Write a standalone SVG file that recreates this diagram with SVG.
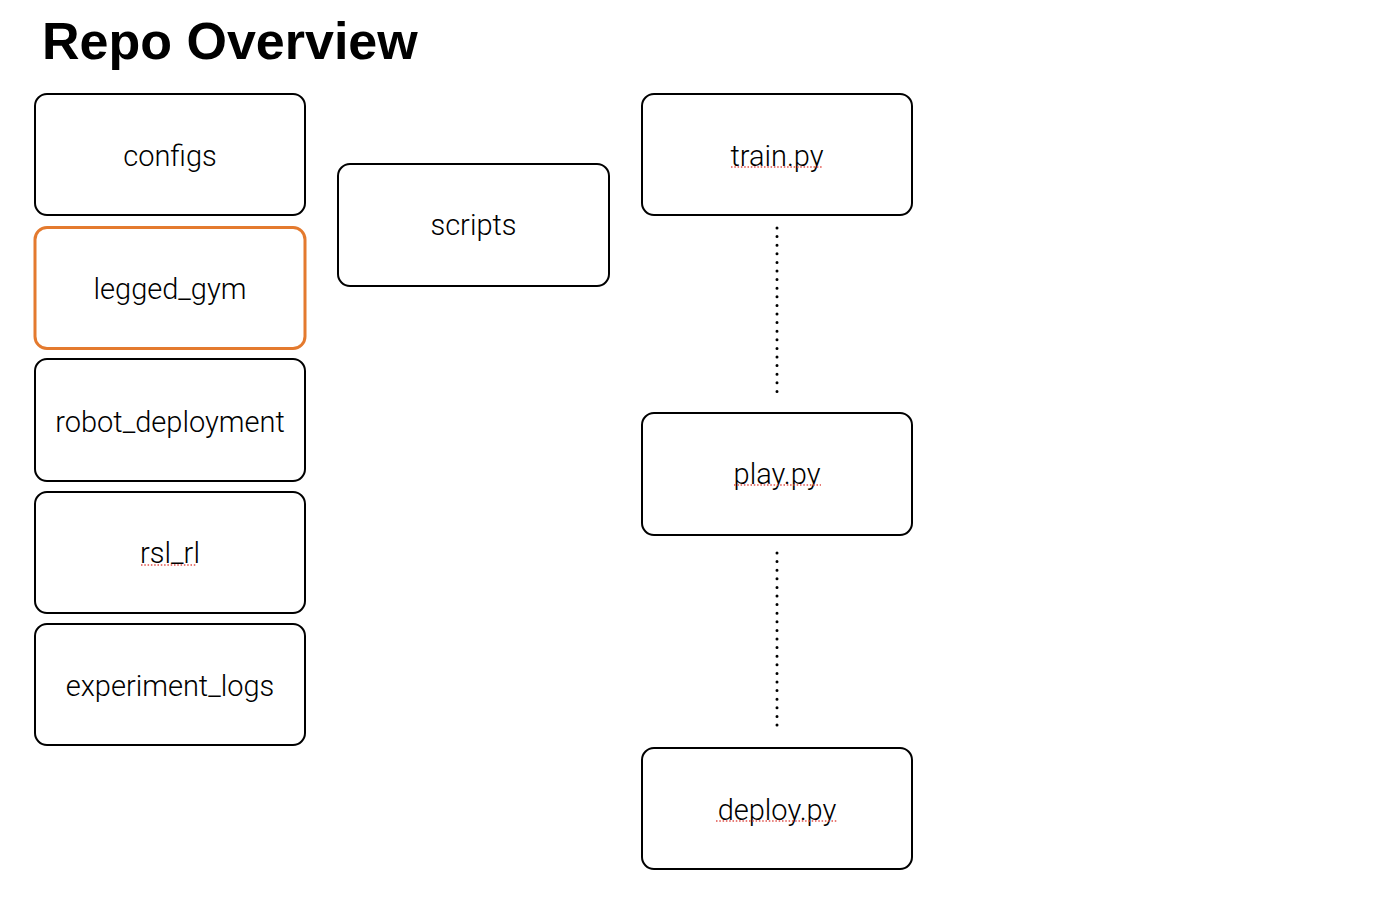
<svg xmlns="http://www.w3.org/2000/svg" width="1382" height="908" viewBox="0 0 1382 908">
<style>
.box{fill:#fff;stroke:#000;stroke-width:2}
.hl{fill:#fff;stroke:#E47A2E;stroke-width:3}
.lbl{font-family:Roboto,"Liberation Sans",sans-serif;font-weight:300;font-size:29px;fill:#000;text-anchor:middle}
.title{font-family:"Liberation Sans",Arial,sans-serif;font-weight:bold;font-size:52px;fill:#000}
.dot{stroke:#000;stroke-width:3;stroke-linecap:round;stroke-dasharray:0 8.6;fill:none}
.sp{stroke:#e0504a;stroke-width:1.3;stroke-dasharray:1.5 1.8;fill:none}
</style>
<rect width="1382" height="908" fill="#fff"/>
<text class="title" x="42" y="59">Repo Overview</text>
<g id="connectors">
<line class="dot" x1="777" y1="228" x2="777" y2="392.5"/>
<line class="dot" x1="777" y1="553" x2="777" y2="726"/>
</g>
<g id="configs"><rect class="box" x="35" y="94" width="270" height="121" rx="12"/><text class="lbl" x="170" y="166">configs</text></g>
<g id="legged_gym"><rect class="hl" x="35" y="227.5" width="270" height="121" rx="12"/><text class="lbl" x="170" y="299">legged_gym</text></g>
<g id="robot_deployment"><rect class="box" x="35" y="359" width="270" height="122" rx="12"/><text class="lbl" x="170" y="432">robot_deployment</text></g>
<g id="rsl_rl"><rect class="box" x="35" y="492" width="270" height="121" rx="12"/><text class="lbl" x="170" y="563">rsl_rl</text><line class="sp" x1="141" y1="565" x2="197" y2="565"/></g>
<g id="experiment_logs"><rect class="box" x="35" y="624" width="270" height="121" rx="12"/><text class="lbl" x="170" y="696">experiment_logs</text></g>
<g id="scripts"><rect class="box" x="338" y="164" width="271" height="122" rx="12"/><text class="lbl" x="473.5" y="235">scripts</text></g>
<g id="train"><rect class="box" x="642" y="94" width="270" height="121" rx="12"/><text class="lbl" x="777" y="166">train.py</text><line class="sp" x1="731" y1="167" x2="822" y2="167"/></g>
<g id="play"><rect class="box" x="642" y="413" width="270" height="122" rx="12"/><text class="lbl" x="777" y="484">play.py</text><line class="sp" x1="734" y1="485" x2="821" y2="485"/></g>
<g id="deploy"><rect class="box" x="642" y="748" width="270" height="121" rx="12"/><text class="lbl" x="777" y="820">deploy.py</text><line class="sp" x1="716" y1="821" x2="837" y2="821"/></g>
</svg>
